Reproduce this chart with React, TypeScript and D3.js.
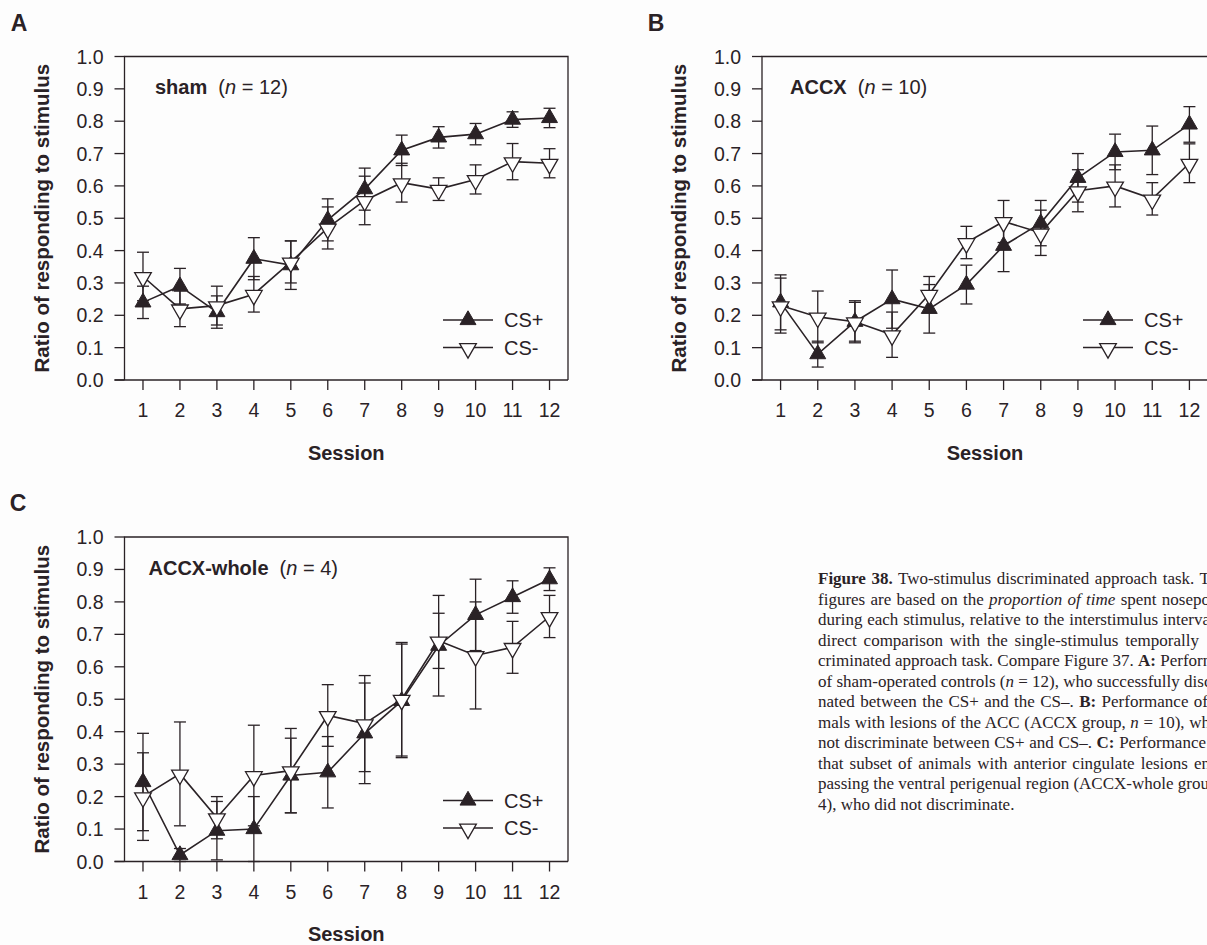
import React, { useLayoutEffect, useRef } from "react";
import * as d3 from "d3";

// ---------- data ----------
const sessions = [1, 2, 3, 4, 5, 6, 7, 8, 9, 10, 11, 12];
const yTicks = [0, 0.1, 0.2, 0.3, 0.4, 0.5, 0.6, 0.7, 0.8, 0.9, 1.0];

const shamPlus = [0.24, 0.29, 0.21, 0.375, 0.355, 0.495, 0.59, 0.71, 0.75, 0.76, 0.805, 0.81];
const shamPlusErr = [0.05, 0.055, 0.05, 0.065, 0.075, 0.065, 0.065, 0.047, 0.033, 0.033, 0.024, 0.03];
const shamMinus = [0.32, 0.22, 0.23, 0.265, 0.365, 0.47, 0.555, 0.61, 0.59, 0.62, 0.675, 0.67];
const shamMinusErr = [0.075, 0.055, 0.06, 0.055, 0.065, 0.065, 0.075, 0.06, 0.035, 0.045, 0.056, 0.045];

const accxPlus = [0.24, 0.08, 0.18, 0.25, 0.22, 0.295, 0.415, 0.485, 0.625, 0.705, 0.71, 0.79];
const accxPlusErr = [0.085, 0.04, 0.06, 0.09, 0.075, 0.06, 0.08, 0.07, 0.075, 0.055, 0.075, 0.055];
const accxMinus = [0.23, 0.195, 0.18, 0.14, 0.265, 0.425, 0.49, 0.455, 0.585, 0.6, 0.56, 0.67];
const accxMinusErr = [0.085, 0.08, 0.065, 0.07, 0.055, 0.05, 0.065, 0.07, 0.065, 0.065, 0.05, 0.06];

const wholePlus = [0.245, 0.02, 0.095, 0.1, 0.265, 0.275, 0.395, 0.495, 0.665, 0.76, 0.815, 0.87];
const wholePlusErr = [0.15, 0.02, 0.09, 0.1, 0.115, 0.11, 0.155, 0.175, 0.155, 0.11, 0.05, 0.035];
const wholeMinus = [0.2, 0.27, 0.135, 0.265, 0.28, 0.45, 0.425, 0.5, 0.68, 0.635, 0.66, 0.755];
const wholeMinusErr = [0.135, 0.16, 0.065, 0.155, 0.13, 0.095, 0.148, 0.175, 0.085, 0.165, 0.08, 0.065];

const seriesNames = ["CS+", "CS-"];
const yTitle = "Ratio of responding to stimulus";
const xTitle = "Session";

type Part = { t: string; w?: string; s?: string };
const captionLines: { parts: Part[]; width: number }[] = [
  { parts: [{ t: "Figure 38.", w: "bold" }, { t: " Two-stimulus discriminated approach task. T" }], width: 392 },
  { parts: [{ t: "figures are based on the " }, { t: "proportion of time", s: "italic" }, { t: " spent nosepo" }], width: 392 },
  { parts: [{ t: "during each stimulus, relative to the interstimulus interva" }], width: 392 },
  { parts: [{ t: "direct comparison with the single-stimulus temporally" }], width: 381 },
  { parts: [{ t: "criminated approach task. Compare Figure 37. " }, { t: "A:", w: "bold" }, { t: " Perform" }], width: 392 },
  { parts: [{ t: "of sham-operated controls (" }, { t: "n", s: "italic" }, { t: " = 12), who successfully disc" }], width: 392 },
  { parts: [{ t: "nated between the CS+ and the CS–. " }, { t: "B:", w: "bold" }, { t: " Performance of" }], width: 390 },
  { parts: [{ t: "mals with lesions of the ACC (ACCX group, " }, { t: "n", s: "italic" }, { t: " = 10), wh" }], width: 392 },
  { parts: [{ t: "not discriminate between CS+ and CS–. " }, { t: "C:", w: "bold" }, { t: " Performance" }], width: 388 },
  { parts: [{ t: "that subset of animals with anterior cingulate lesions en" }], width: 392 },
  { parts: [{ t: "passing the ventral perigenual region (ACCX-whole group" }], width: 392 },
  { parts: [{ t: "4), who did not discriminate." }], width: 0 },
];

// ---------- layout ----------
const INK = "#2a2226";
const SANS = "'Liberation Sans', Arial, Helvetica, sans-serif";
const SERIF = "'Liberation Serif', 'Times New Roman', serif";

type Panel = {
  label: string;
  labelX: number;
  labelY: number;
  name: string;
  n: number;
  left: number;
  right: number;
  top: number;
  bottom: number;
  titleDx: number;
  plus: number[];
  plusErr: number[];
  minus: number[];
  minusErr: number[];
};

const panels: Panel[] = [
  { label: "A", labelX: 19, labelY: 23, name: "sham", n: 12, left: 124.5, right: 568, top: 56.5, bottom: 380, titleDx: 30.5, plus: shamPlus, plusErr: shamPlusErr, minus: shamMinus, minusErr: shamMinusErr },
  { label: "B", labelX: 656, labelY: 23, name: "ACCX", n: 10, left: 762, right: 1208, top: 56.5, bottom: 380, titleDx: 28, plus: accxPlus, plusErr: accxPlusErr, minus: accxMinus, minusErr: accxMinusErr },
  { label: "C", labelX: 18, labelY: 503, name: "ACCX-whole", n: 4, left: 124.5, right: 568, top: 537, bottom: 861.5, titleDx: 24, plus: wholePlus, plusErr: wholePlusErr, minus: wholeMinus, minusErr: wholeMinusErr },
];

const triUp = d3.symbol().type(d3.symbolTriangle).size(110)() as string;
const triDown = d3.symbol().type(d3.symbolTriangle).size(120)() as string;

function Marker({ x, y, filled }: { x: number; y: number; filled: boolean }) {
  return filled ? (
    <path d={triUp} transform={`translate(${x},${y})`} fill={INK} stroke={INK} strokeWidth={1} />
  ) : (
    <path d={triDown} transform={`translate(${x},${y + 1}) rotate(180)`} fill="#ffffff" stroke={INK} strokeWidth={1.3} />
  );
}

function ChartPanel({ p }: { p: Panel }) {
  const x = d3.scaleLinear().domain([0.5, 12.5]).range([p.left, p.right]);
  const y = d3.scaleLinear().domain([0, 1]).range([p.bottom, p.top]);
  const line = d3
    .line<number>()
    .x((_, i) => x(sessions[i]))
    .y((d) => y(d));
  const series = [
    { vals: p.plus, errs: p.plusErr, filled: true },
    { vals: p.minus, errs: p.minusErr, filled: false },
  ];
  const cap = 6;
  const legX0 = p.right - 125;
  const legX1 = p.right - 75;
  const legY = [p.top + 263.5, p.top + 291];
  return (
    <g>
      <text x={p.labelX} y={p.labelY} dy="0.36em" textAnchor="middle" fontFamily={SANS} fontWeight="bold" fontSize={23} fill={INK}>
        {p.label}
      </text>
      {/* frame */}
      <path d={`M${p.left},${p.bottom}V${p.top}H${p.right}V${p.bottom}`} fill="none" stroke={INK} strokeWidth={1.3} />
      <line x1={p.left - 10} x2={p.right} y1={p.bottom} y2={p.bottom} stroke={INK} strokeWidth={1.3} />
      {/* y ticks */}
      {yTicks.map((t) => (
        <g key={t}>
          <line x1={p.left - 10} x2={p.left} y1={y(t)} y2={y(t)} stroke={INK} strokeWidth={1.3} />
          <text x={p.left - 21} y={y(t)} dy="0.36em" textAnchor="end" fontFamily={SANS} fontSize={19.5} fill={INK}>
            {t.toFixed(1)}
          </text>
        </g>
      ))}
      {/* x ticks */}
      {sessions.map((s) => (
        <g key={s}>
          <line x1={x(s)} x2={x(s)} y1={p.bottom} y2={p.bottom + 10} stroke={INK} strokeWidth={1.3} />
          <text x={x(s)} y={p.bottom + 30} dy="0.36em" textAnchor="middle" fontFamily={SANS} fontSize={19.5} fill={INK}>
            {s}
          </text>
        </g>
      ))}
      <text x={(p.left + p.right) / 2} y={p.bottom + 72.5} dy="0.36em" textAnchor="middle" fontFamily={SANS} fontWeight="bold" fontSize={20} fill={INK}>
        {xTitle}
      </text>
      <text
        transform={`translate(${p.left - 83},${(p.top + p.bottom) / 2}) rotate(-90)`}
        dy="0.36em"
        textAnchor="middle"
        fontFamily={SANS}
        fontWeight="bold"
        fontSize={20.5}
        fill={INK}
      >
        {yTitle}
      </text>
      {/* panel title */}
      <text x={p.left + p.titleDx} y={p.top + 30.5} dy="0.36em" fontFamily={SANS} fontSize={20} fill={INK}>
        <tspan fontWeight="bold">{p.name}</tspan>
        <tspan>{"\u00a0\u00a0("}</tspan>
        <tspan fontStyle="italic">n</tspan>
        <tspan>{" = " + p.n + ")"}</tspan>
      </text>
      {/* error bars */}
      {series.map((sr, si) => (
        <g key={"e" + si}>
          {sr.vals.map((v, i) => {
            const cx = x(sessions[i]);
            const hi = y(Math.min(1, v + sr.errs[i]));
            const lo = y(Math.max(0, v - sr.errs[i]));
            return (
              <g key={i}>
                <line x1={cx} x2={cx} y1={hi} y2={lo} stroke={INK} strokeWidth={1.3} />
                <line x1={cx - cap} x2={cx + cap} y1={hi} y2={hi} stroke={INK} strokeWidth={1.3} />
                <line x1={cx - cap} x2={cx + cap} y1={lo} y2={lo} stroke={INK} strokeWidth={1.3} />
              </g>
            );
          })}
        </g>
      ))}
      {/* lines */}
      {series.map((sr, si) => (
        <path key={"l" + si} d={line(sr.vals) as string} fill="none" stroke={INK} strokeWidth={1.6} />
      ))}
      {/* markers */}
      {series.map((sr, si) => (
        <g key={"m" + si}>
          {sr.vals.map((v, i) => (
            <Marker key={i} x={x(sessions[i])} y={y(v)} filled={sr.filled} />
          ))}
        </g>
      ))}
      {/* legend */}
      {seriesNames.map((nm, i) => (
        <g key={nm}>
          <line x1={legX0} x2={legX1} y1={legY[i]} y2={legY[i]} stroke={INK} strokeWidth={1.6} />
          <Marker x={(legX0 + legX1) / 2} y={legY[i]} filled={i === 0} />
          <text x={legX1 + 11} y={legY[i]} dy="0.36em" fontFamily={SANS} fontSize={20} fill={INK}>
            {nm}
          </text>
        </g>
      ))}
    </g>
  );
}

function CaptionLine({ parts, width, x, y }: { parts: Part[]; width: number; x: number; y: number }) {
  const ref = useRef<SVGTextElement>(null);
  useLayoutEffect(() => {
    const el = ref.current;
    if (!el || !width) return;
    el.setAttribute("word-spacing", "0");
    const len = el.getComputedTextLength();
    const spaces = parts.map((p) => p.t).join("").split(" ").length - 1;
    if (len < width && spaces > 0) {
      el.setAttribute("word-spacing", String((width - len) / spaces));
    }
  }, [parts, width]);
  return (
    <text ref={ref} x={x} y={y} dy="0.36em" fontFamily={SERIF} fontSize={17} fill={INK}>
      {parts.map((pt, j) => (
        <tspan key={j} fontWeight={pt.w || "normal"} fontStyle={pt.s || "normal"}>
          {pt.t}
        </tspan>
      ))}
    </text>
  );
}

export default function App() {
  const capX = 818;
  const capY = 578;
  const lineH = 20.5;
  return (
    <svg width={1207} height={945} viewBox="0 0 1207 945" style={{ position: "fixed", left: 0, top: 0, background: "#fdfdfd" }}>
      <rect x={0} y={0} width={1207} height={945} fill="#fdfdfd" />
      {panels.map((p) => (
        <ChartPanel key={p.label} p={p} />
      ))}
      {captionLines.map((ln, i) => (
        <CaptionLine key={i} parts={ln.parts} width={ln.width} x={capX} y={capY + i * lineH} />
      ))}
    </svg>
  );
}
